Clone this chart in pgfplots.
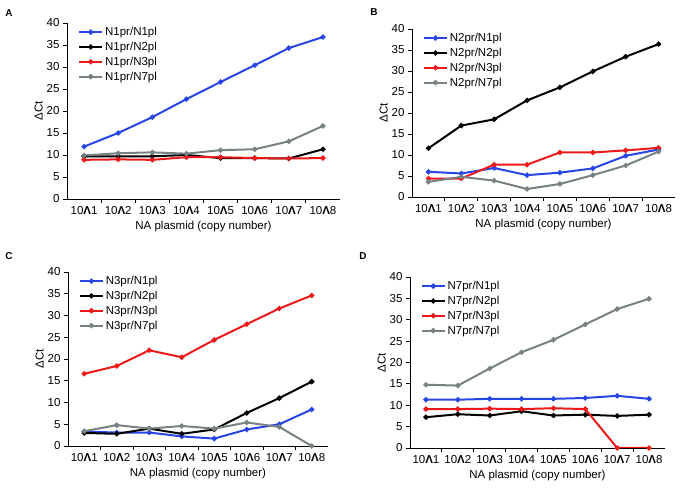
\documentclass[border=0pt]{standalone}
\usepackage{fontspec}
\setmainfont{Liberation Sans}
\usepackage{pgfplots}
\pgfplotsset{compat=1.18}
\definecolor{cblue}{RGB}{40,70,230}
\definecolor{cred}{RGB}{235,25,25}
\definecolor{cgray}{RGB}{120,130,130}
\newcommand{\ct}[1]{10{\bfseries Λ}#1}
\pgfplotsset{
  ser/.style={#1, line width=2pt, mark=*, mark size=1.5pt, mark options={fill=#1, draw=#1}},
  panel/.style={
    scale only axis,
    font=\fontsize{11.5}{13.5}\selectfont,
    /pgf/number format/assume math mode=true,
    axis lines=left,
    axis line style={-, line width=0.8pt},
    ymin=0, ymax=40, ytick={0,5,...,40},
    xmin=-0.5, xmax=7.5,
    xtick={0,...,7},
    xticklabels={\ct1,\ct2,\ct3,\ct4,\ct5,\ct6,\ct7,\ct8},
    major x tick style={draw=none},
    minor xtick={0.5,1.5,...,6.5},
    minor tick length=4pt,
    major tick length=4pt,
    tick align=outside,
    tick style={line width=0.8pt, black},
    xlabel={NA plasmid (copy number)},
    ylabel={ΔCt},
    xlabel style={yshift=0pt},
    ylabel style={yshift=-3pt},
    legend style={at={(0.03,1.0)}, anchor=north west, draw=none, fill=none,
      font=\fontsize{11.5}{13.5}\selectfont, row sep=1pt},
    legend cell align=left,
    legend image code/.code={\draw[mark repeat=2,mark phase=2,#1] plot coordinates {(0cm,0cm)(0.4cm,0cm)(0.8cm,0cm)};},
  },
}
\begin{document}
\begin{tikzpicture}
\path (0pt,0pt) rectangle (683pt,494pt);
\node[font=\fontsize{10}{11}\selectfont\bfseries] at (9pt,481pt) {A};
\node[font=\fontsize{10}{11}\selectfont\bfseries] at (374pt,482pt) {B};
\node[font=\fontsize{10}{11}\selectfont\bfseries] at (9pt,238pt) {C};
\node[font=\fontsize{10}{11}\selectfont\bfseries] at (363pt,238pt) {D};

% A
\begin{axis}[panel, at={(67pt,295pt)}, anchor=south west, width=273pt, height=176pt]
\addplot[ser=cblue] coordinates {(0,11.9)(1,15.0)(2,18.6)(3,22.7)(4,26.6)(5,30.4)(6,34.3)(7,36.8)};
\addplot[ser=black] coordinates {(0,9.7)(1,9.7)(2,9.7)(3,10.0)(4,9.3)(5,9.3)(6,9.2)(7,11.3)};
\addplot[ser=cred] coordinates {(0,8.9)(1,9.0)(2,8.9)(3,9.5)(4,9.5)(5,9.3)(6,9.2)(7,9.3)};
\addplot[ser=cgray] coordinates {(0,9.9)(1,10.4)(2,10.6)(3,10.3)(4,11.1)(5,11.3)(6,13.1)(7,16.6)};
\legend{N1pr/N1pl,N1pr/N2pl,N1pr/N3pl,N1pr/N7pl}
\end{axis}

% B
\begin{axis}[panel, at={(412pt,297pt)}, anchor=south west, width=263pt, height=168pt]
\addplot[ser=cblue] coordinates {(0,6.0)(1,5.6)(2,6.9)(3,5.2)(4,5.8)(5,6.8)(6,9.8)(7,11.3)};
\addplot[ser=black] coordinates {(0,11.6)(1,17.0)(2,18.5)(3,23.0)(4,26.1)(5,29.9)(6,33.4)(7,36.4)};
\addplot[ser=cred] coordinates {(0,4.4)(1,4.4)(2,7.7)(3,7.7)(4,10.6)(5,10.6)(6,11.1)(7,11.7)};
\addplot[ser=cgray] coordinates {(0,3.6)(1,4.8)(2,3.9)(3,1.9)(4,3.1)(5,5.2)(6,7.5)(7,10.8)};
\legend{N2pr/N1pl,N2pr/N2pl,N2pr/N3pl,N2pr/N7pl}
\end{axis}

% C
\begin{axis}[panel, at={(68pt,48pt)}, anchor=south west, width=260pt, height=174pt]
\addplot[ser=cblue] coordinates {(0,3.3)(1,3.1)(2,3.1)(3,2.2)(4,1.7)(5,3.8)(6,5.0)(7,8.4)};
\addplot[ser=black] coordinates {(0,3.0)(1,2.8)(2,4.0)(3,2.8)(4,3.8)(5,7.6)(6,11.0)(7,14.8)};
\addplot[ser=cred] coordinates {(0,16.6)(1,18.4)(2,22.0)(3,20.4)(4,24.4)(5,28.0)(6,31.6)(7,34.6)};
\addplot[ser=cgray] coordinates {(0,3.4)(1,4.8)(2,4.0)(3,4.6)(4,4.0)(5,5.4)(6,4.4)(7,0.0)};
\legend{N3pr/N1pl,N3pr/N2pl,N3pr/N3pl,N3pr/N7pl}
\end{axis}

% D
\begin{axis}[panel, at={(410pt,46pt)}, anchor=south west, width=255pt, height=171pt]
\addplot[ser=cblue] coordinates {(0,11.3)(1,11.3)(2,11.5)(3,11.5)(4,11.5)(5,11.7)(6,12.2)(7,11.5)};
\addplot[ser=black] coordinates {(0,7.2)(1,7.9)(2,7.6)(3,8.6)(4,7.6)(5,7.8)(6,7.5)(7,7.8)};
\addplot[ser=cred] coordinates {(0,9.1)(1,9.1)(2,9.2)(3,9.1)(4,9.3)(5,9.1)(6,0)(7,0)};
\addplot[ser=cgray] coordinates {(0,14.8)(1,14.6)(2,18.6)(3,22.4)(4,25.3)(5,28.9)(6,32.5)(7,34.9)};
\legend{N7pr/N1pl,N7pr/N2pl,N7pr/N3pl,N7pr/N7pl}
\end{axis}
\end{tikzpicture}
\end{document}
